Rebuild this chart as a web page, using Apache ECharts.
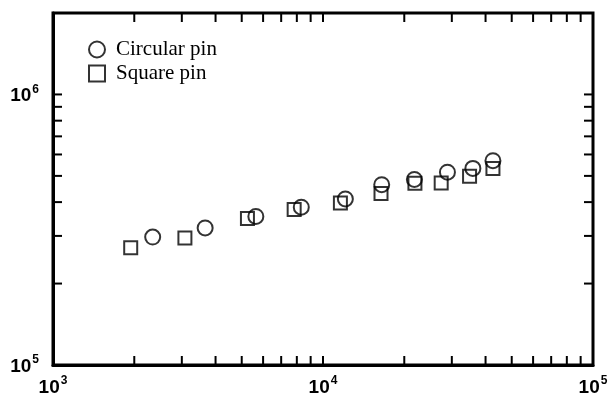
<!DOCTYPE html>
<html>
<head>
<meta charset="utf-8">
<script src="https://cdn.jsdelivr.net/npm/echarts@6/dist/echarts.min.js"></script>
<style>
  html, body { margin: 0; padding: 0; background: #fff; }
  #chart { width: 613px; height: 399px; }
</style>
</head>
<body>
<div id="chart"></div>
<script>
// data
var circleX = [2340, 3660, 5640, 8310, 12100, 16500, 21800, 28900, 35900, 42600];
var circleY = [2.97e5, 3.21e5, 3.54e5, 3.83e5, 4.11e5, 4.64e5, 4.85e5, 5.16e5, 5.33e5, 5.69e5];
var squareX = [1940, 3080, 5250, 7820, 11600, 16400, 21900, 27400, 34900, 42600];
var squareY = [2.71e5, 2.95e5, 3.48e5, 3.76e5, 3.97e5, 4.30e5, 4.70e5, 4.71e5, 4.98e5, 5.33e5];

// tick values (log axes, major + minor)
var xTicks = [1e3, 2e3, 3e3, 4e3, 5e3, 6e3, 7e3, 8e3, 9e3,
              1e4, 2e4, 3e4, 4e4, 5e4, 6e4, 7e4, 8e4, 9e4, 1e5];
var yTicks = [1e5, 2e5, 3e5, 4e5, 5e5, 6e5, 7e5, 8e5, 9e5, 1e6];
var xRange = [1e3, 1e5];
var yRange = [1e5, 2e6];

function zip(xs, ys) {
  return xs.map(function (x, i) { return [x, ys[i]]; });
}

function powLabel(v) {
  var l = Math.log10(v);
  var e = Math.round(l);
  if (Math.abs(l - e) > 1e-6) return '';
  return '{b|10}{s|' + e + '}';
}

var labelRich = {
  b: { fontFamily: 'Liberation Sans', fontWeight: 'bold', fontSize: 19, color: '#000', lineHeight: 22, verticalAlign: 'bottom' },
  s: { fontFamily: 'Liberation Sans', fontWeight: 'bold', fontSize: 12, color: '#000', verticalAlign: 'top', padding: [0, 0, 0, 1] }
};

var myChart = echarts.init(document.getElementById('chart'));

var markStyle = { color: 'rgba(0,0,0,0)', borderColor: '#000', borderWidth: 2 };

var option = {
  animation: false,
  grid: {
    left: 53, right: 20, top: 13, bottom: 34,
    show: true, borderColor: '#000', borderWidth: 3
  },
  legend: {
    orient: 'vertical',
    left: 83, top: 34,
    itemWidth: 16, itemHeight: 16, itemGap: 3,
    textStyle: { fontFamily: 'Liberation Serif', fontSize: 21, color: '#000', padding: [0, 0, 0, 6] },
    data: ['Circular pin', 'Square pin']
  },
  xAxis: {
    type: 'log', logBase: 10,
    min: xRange[0], max: xRange[1],
    axisLine: { show: true, lineStyle: { color: '#000', width: 3 } },
    axisTick: { show: false },
    splitLine: { show: false },
    axisLabel: { margin: 10, formatter: powLabel, rich: labelRich }
  },
  yAxis: {
    type: 'log', logBase: 10,
    min: yRange[0], max: yRange[1],
    axisLine: { show: true, lineStyle: { color: '#000', width: 3 } },
    axisTick: { show: false },
    splitLine: { show: false },
    axisLabel: { margin: 14, formatter: powLabel, rich: labelRich }
  },
  series: [
    {
      name: 'Circular pin',
      type: 'scatter',
      symbol: 'circle',
      symbolSize: 15,
      itemStyle: markStyle,
      emphasis: { disabled: true },
      data: zip(circleX, circleY)
    },
    {
      name: 'Square pin',
      type: 'scatter',
      symbol: 'rect',
      symbolSize: 13,
      itemStyle: markStyle,
      emphasis: { disabled: true },
      data: zip(squareX, squareY)
    }
  ]
};

myChart.setOption(option);

// inward ticks on all four sides, placed with the axes' own scales
function drawTicks() {
  var len = 9;
  var left = myChart.convertToPixel({ xAxisIndex: 0 }, xRange[0]);
  var right = myChart.convertToPixel({ xAxisIndex: 0 }, xRange[1]);
  var bottom = myChart.convertToPixel({ yAxisIndex: 0 }, yRange[0]);
  var top = myChart.convertToPixel({ yAxisIndex: 0 }, yRange[1]);
  var els = [];
  var st = { stroke: '#000', lineWidth: 2 };
  xTicks.forEach(function (v) {
    var px = myChart.convertToPixel({ xAxisIndex: 0 }, v);
    els.push({ type: 'line', silent: true, shape: { x1: px, y1: bottom, x2: px, y2: bottom - len }, style: st });
    els.push({ type: 'line', silent: true, shape: { x1: px, y1: top, x2: px, y2: top + len }, style: st });
  });
  yTicks.forEach(function (v) {
    var py = myChart.convertToPixel({ yAxisIndex: 0 }, v);
    els.push({ type: 'line', silent: true, shape: { x1: left, y1: py, x2: left + len, y2: py }, style: st });
    els.push({ type: 'line', silent: true, shape: { x1: right, y1: py, x2: right - len, y2: py }, style: st });
  });
  myChart.setOption({ graphic: { elements: els } }, { replaceMerge: ['graphic'] });
}
drawTicks();

window.addEventListener('resize', function () {
  myChart.resize();
  drawTicks();
});
</script>
</body>
</html>
